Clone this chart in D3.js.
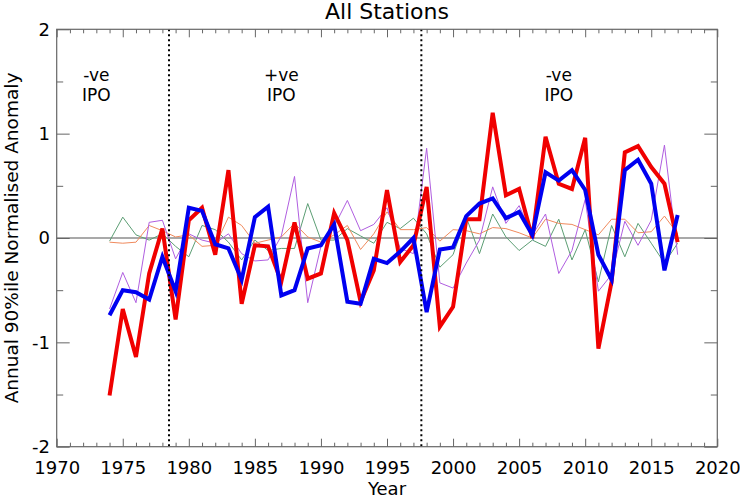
<!DOCTYPE html>
<html>
<head>
<meta charset="utf-8">
<script src="https://cdn.jsdelivr.net/npm/d3@7"></script>
<style>
  body { margin: 0; background: #fff; }
  text { font-family: "DejaVu Sans", sans-serif; }
</style>
</head>
<body>
<div id="chart"></div>
<script>
// data
let years = [1974, 1975, 1976, 1977, 1978, 1979, 1980, 1981, 1982, 1983,
  1984, 1985, 1986, 1987, 1988, 1989, 1990, 1991, 1992, 1993,
  1994, 1995, 1996, 1997, 1998, 1999, 2000, 2001, 2002, 2003,
  2004, 2005, 2006, 2007, 2008, 2009, 2010, 2011, 2012, 2013,
  2014, 2015, 2016, 2017];

let redSeries = [-1.51, -0.68, -1.14, -0.34, 0.09, -0.78, 0.17, 0.29, -0.16, 0.65,
  -0.63, -0.07, -0.08, -0.42, 0.15, -0.39, -0.34, 0.24, -0.02, -0.61,
  -0.31, 0.46, -0.23, -0.07, 0.49, -0.85, -0.66, 0.18, 0.18, 1.20,
  0.41, 0.47, 0.00, 0.97, 0.52, 0.47, 0.96, -1.06, -0.42, 0.82,
  0.88, 0.68, 0.52, -0.04];

let blueSeries = [-0.74, -0.50, -0.52, -0.59, -0.18, -0.51, 0.29, 0.26, -0.06, -0.10,
  -0.40, 0.20, 0.30, -0.55, -0.50, -0.10, -0.07, 0.13, -0.61, -0.63,
  -0.20, -0.24, -0.13, 0.00, -0.71, -0.11, -0.09, 0.21, 0.33, 0.38,
  0.19, 0.25, 0.03, 0.63, 0.55, 0.65, 0.46, -0.16, -0.40, 0.65,
  0.75, 0.52, -0.31, 0.22];

let greenSeries = [-0.03, 0.20, 0.03, -0.02, 0.04, -0.08, -0.18, 0.12, 0.08, -0.04,
  -0.21, -0.02, -0.12, -0.10, -0.10, 0.33, -0.02, -0.02, 0.09, 0.02,
  -0.05, 0.15, 0.09, 0.19, 0.04, -0.28, -0.16, 0.20, -0.15, 0.23,
  0.01, -0.12, -0.02, -0.08, 0.18, -0.21, 0.08, -0.42, 0.12, -0.18,
  0.14, -0.05, -0.24, -0.05];

let purpleSeries = [-0.68, -0.33, -0.62, 0.15, 0.17, -0.20, 0.04, -0.02, -0.05, 0.04,
  -0.15, -0.22, -0.21, 0.02, 0.59, -0.62, -0.08, 0.11, 0.36, 0.07,
  0.13, 0.29, -0.10, -0.15, 0.86, -0.43, -0.48, -0.24, -0.02, 0.49,
  0.14, 0.31, 0.03, 0.23, -0.34, -0.12, 0.37, -0.51, -0.35, 0.16,
  -0.07, 0.17, 0.89, -0.16];

let orangeSeries = [-0.04, -0.05, -0.04, 0.12, 0.07, 0.01, 0.03, -0.08, -0.07, 0.20,
  0.12, -0.05, -0.02, 0.01, 0.14, 0.01, -0.04, 0.03, 0.12, -0.11,
  0.04, 0.25, 0.08, 0.08, 0.10, -0.03, 0.08, 0.07, 0.04, 0.10,
  0.09, 0.05, 0.00, 0.18, 0.14, 0.13, 0.08, 0.03, 0.18, 0.18,
  0.05, 0.06, 0.21, 0.04];

let xTicks = [1970, 1975, 1980, 1985, 1990, 1995, 2000, 2005, 2010, 2015, 2020];
let xMinor = [1971, 1972, 1973, 1974, 1976, 1977, 1978, 1979, 1981, 1982, 1983, 1984,
  1986, 1987, 1988, 1989, 1991, 1992, 1993, 1994, 1996, 1997, 1998, 1999,
  2001, 2002, 2003, 2004, 2006, 2007, 2008, 2009, 2011, 2012, 2013, 2014,
  2016, 2017, 2018, 2019];
let yTicks = [-2, -1, 0, 1, 2];
let yMinor = [-1.5, -0.5, 0.5, 1.5];

let phaseBreaks = [1978.5, 1997.6];
let phaseLabels = [
  {year: 1973, top: "-ve", bottom: "IPO"},
  {year: 1987, top: "+ve", bottom: "IPO"},
  {year: 2008, top: "-ve", bottom: "IPO"}
];

// Setup chart
let svgWidth = 740;
let svgHeight = 500;
let margin = {top: 29.3, right: 22.7, bottom: 53.3, left: 56.7};
let width = svgWidth - margin.left - margin.right;
let height = svgHeight - margin.top - margin.bottom;

let svg = d3.select('#chart')
  .append('svg')
  .attr('width', svgWidth)
  .attr('height', svgHeight);

let chartGroup = svg.append('g')
  .attr('transform', `translate(${margin.left},${margin.top})`);

let x = d3.scaleLinear().domain([1970, 2020]).range([0, width]);
let y = d3.scaleLinear().domain([-2, 2]).range([height, 0]);

let axisColor = '#666';

// zero line
chartGroup.append('line')
  .attr('x1', x(1970)).attr('x2', x(2020))
  .attr('y1', y(0)).attr('y2', y(0))
  .attr('stroke', '#555').attr('stroke-width', 1.2);

// series
let line = d3.line()
  .x((d, i) => x(years[i]))
  .y(d => y(d));

let series = [
  {values: greenSeries, color: '#5c9e74', w: 1},
  {values: orangeSeries, color: '#f08a5d', w: 1},
  {values: purpleSeries, color: '#b05ee0', w: 1},
  {values: redSeries, color: '#f00000', w: 4},
  {values: blueSeries, color: '#0000f0', w: 4}
];

series.forEach(s => {
  chartGroup.append('path')
    .datum(s.values)
    .attr('d', line)
    .attr('fill', 'none')
    .attr('stroke', s.color)
    .attr('stroke-width', s.w)
    .attr('stroke-linejoin', 'miter');
});

// IPO phase breaks
chartGroup.selectAll('.phase')
  .data(phaseBreaks)
  .enter()
  .append('line')
  .attr('x1', d => x(d)).attr('x2', d => x(d))
  .attr('y1', 0).attr('y2', height)
  .attr('stroke', '#000')
  .attr('stroke-width', 2)
  .attr('stroke-dasharray', '2,3');

// phase annotations, two lines each
chartGroup.selectAll('.phaseTop')
  .data(phaseLabels)
  .enter()
  .append('text')
  .attr('x', d => x(d.year)).attr('y', 51.5)
  .attr('text-anchor', 'middle')
  .attr('font-size', 17)
  .text(d => d.top);
chartGroup.selectAll('.phaseBottom')
  .data(phaseLabels)
  .enter()
  .append('text')
  .attr('x', d => x(d.year)).attr('y', 71.5)
  .attr('text-anchor', 'middle')
  .attr('font-size', 17)
  .text(d => d.bottom);

// axes
function styleAxis(g) {
  g.select('.domain').remove();
  g.selectAll('.tick line').attr('stroke', axisColor);
  g.selectAll('.tick text').attr('fill', '#000').attr('font-size', 18)
    .style('font-family', '"DejaVu Sans", sans-serif');
}

let plainFormat = d => String(d);

chartGroup.append('g')
  .attr('transform', `translate(0,${height})`)
  .call(d3.axisBottom(x).tickValues(xTicks).tickSize(-8).tickPadding(15).tickFormat(plainFormat))
  .call(styleAxis);
chartGroup.append('g')
  .attr('transform', `translate(0,${height})`)
  .call(d3.axisBottom(x).tickValues(xMinor).tickSize(-4).tickFormat(''))
  .call(styleAxis);
chartGroup.append('g')
  .call(d3.axisTop(x).tickValues(xTicks).tickSize(-8).tickFormat(''))
  .call(styleAxis);
chartGroup.append('g')
  .call(d3.axisTop(x).tickValues(xMinor).tickSize(-4).tickFormat(''))
  .call(styleAxis);

chartGroup.append('g')
  .call(d3.axisLeft(y).tickValues(yTicks).tickSize(-13).tickPadding(6.7).tickFormat(plainFormat))
  .call(styleAxis);
chartGroup.append('g')
  .call(d3.axisLeft(y).tickValues(yMinor).tickSize(-6.5).tickFormat(''))
  .call(styleAxis);
chartGroup.append('g')
  .attr('transform', `translate(${width},0)`)
  .call(d3.axisRight(y).tickValues(yTicks).tickSize(-13).tickFormat(''))
  .call(styleAxis);
chartGroup.append('g')
  .attr('transform', `translate(${width},0)`)
  .call(d3.axisRight(y).tickValues(yMinor).tickSize(-6.5).tickFormat(''))
  .call(styleAxis);

// frame
chartGroup.append('rect')
  .attr('width', width).attr('height', height)
  .attr('fill', 'none')
  .attr('stroke', axisColor)
  .attr('stroke-width', 1.2);

// titles
svg.append('text')
  .attr('x', margin.left + width / 2)
  .attr('y', 19)
  .attr('text-anchor', 'middle')
  .attr('font-size', 22)
  .text('All Stations');

svg.append('text')
  .attr('x', margin.left + width / 2)
  .attr('y', 495)
  .attr('text-anchor', 'middle')
  .attr('font-size', 18)
  .text('Year');

svg.append('text')
  .attr('transform', 'rotate(-90)')
  .attr('x', -(margin.top + height / 2))
  .attr('y', 18)
  .attr('text-anchor', 'middle')
  .attr('font-size', 18.5)
  .text('Annual 90%ile Normalised Anomaly');
</script>
</body>
</html>
